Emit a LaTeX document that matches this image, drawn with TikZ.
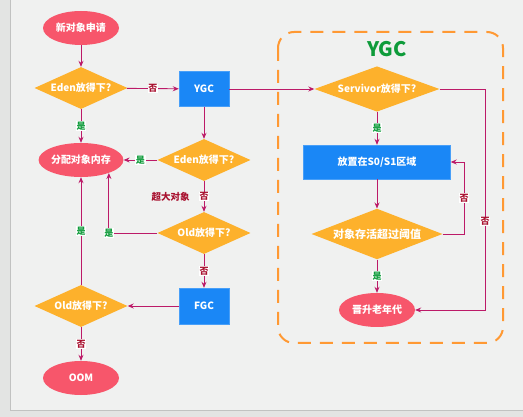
\documentclass[tikz,border=0pt]{standalone}
\usepackage{fontspec}
\setmainfont{Noto Sans CJK SC}
\usetikzlibrary{shapes.geometric,arrows.meta}
\definecolor{bgc}{HTML}{F0F1F0}
\definecolor{framec}{HTML}{E3E4E3}
\definecolor{redc}{HTML}{F7566B}
\definecolor{orangec}{HTML}{FDB12C}
\definecolor{bluec}{HTML}{1A87F6}
\definecolor{arrc}{HTML}{BC1A68}
\definecolor{yesc}{HTML}{0E9B3A}
\definecolor{noc}{HTML}{A8102E}
\definecolor{dashc}{HTML}{FF9933}
\tikzset{
  term/.style={ellipse, fill=redc, text=white, font=\bfseries\fontsize{10}{12}\selectfont, minimum width=76pt, minimum height=34pt, inner sep=0pt},
  decide/.style={diamond, fill=orangec, text=white, font=\bfseries\fontsize{10}{12}\selectfont, inner sep=0pt, aspect=2.2},
  proc/.style={rectangle, fill=bluec, draw=bluec!80!white, text=white, font=\bfseries\fontsize{10}{12}\selectfont, inner sep=0pt},
  arr/.style={draw=arrc, line width=0.9pt, -{Stealth[length=6pt,width=5pt]}},
  yes/.style={fill=white, text=yesc, font=\bfseries\fontsize{9}{10}\selectfont, inner sep=0.8pt},
  no/.style={fill=white, text=noc, font=\bfseries\fontsize{9}{10}\selectfont, inner sep=0.8pt},
}
\begin{document}
\begin{tikzpicture}[x=1pt,y=-1pt]
\useasboundingbox (0,0) rectangle (523,417);
\fill[framec] (0,0) rectangle (523,417);
\fill[bgc] (10,0) rectangle (523,410);
\draw[framec!85!black, line width=0.6pt] (10,0) -- (10,410) -- (523,410);

% dashed YGC region
\draw[dashc, line width=2pt, dash pattern=on 13pt off 9pt, rounded corners=16pt] (278,32) rectangle (503,343);
\node[text=yesc, font=\bfseries\fontsize{20}{22}\selectfont] (title) at (387,49) {YGC};

% left column
\node[term] (start) at (81,28) {新对象申请};
\node[decide, minimum width=93pt, minimum height=42pt] (d1) at (81,88) {Eden放得下?};
\node[proc, minimum width=50pt, minimum height=35pt] (ygc) at (204,89) {YGC};
\node[term] (alloc) at (81,160) {分配对象内存};
\node[decide, minimum width=93pt, minimum height=42pt] (d2) at (204,160) {Eden放得下?};
\node[decide, minimum width=93pt, minimum height=42pt] (d3) at (204,233) {Old放得下?};
\node[proc, minimum width=50pt, minimum height=36pt] (fgc) at (204,306) {FGC};
\node[decide, minimum width=93pt, minimum height=42pt] (d4) at (81,306) {Old放得下?};
\node[term] (oom) at (81,378) {OOM};

% right column
\node[decide, minimum width=125pt, minimum height=44pt] (sv) at (377,89) {Servivor放得下?};
\node[proc, minimum width=147pt, minimum height=34pt] (s01) at (377,162) {放置在S0/S1区域};
\node[decide, minimum width=131pt, minimum height=50pt, font=\bfseries\fontsize{11}{12}\selectfont] (th) at (377,234) {对象存活超过阈值};
\node[term] (promo) at (377,310) {晋升老年代};

% connectors
\draw[arr] (start) -- (d1);
\draw[arr] (d1) -- node[no] {否} (ygc);
\draw[arr] (d1) -- node[yes] {是} (alloc);
\draw[arr] (ygc) -- (d2);
\draw[arr] (ygc) -- (sv);
\draw[arr] (d2) -- node[yes] {是} (alloc);
\draw[arr] (d2) -- node[no] (n2) {否} (d3);
\node[text=noc, font=\bfseries\fontsize{9.5}{10}\selectfont, anchor=east] (big) at ([xshift=-5pt]n2.west) {超大对象};
\draw[arr] (d3.west) -| node[pos=0.5, yes] {是} (alloc.-25);
\draw[arr] (d4.north) -- node[yes] {是} (alloc.south);
\draw[arr] (d3) -- node[no] {否} (fgc);
\draw[arr] (fgc) -- (d4);
\draw[arr] (d4) -- node[no] {否} (oom);

\draw[arr] (sv) -- node[yes] {是} (s01);
\draw[arr] (s01) -- (th);
\draw[arr] (th) -- node[yes] {是} (promo);
\coordinate (c1) at (464,234);
\coordinate (c2) at (485,89);
\draw[arr] (th.east) -- (c1) |- node[pos=0.25, no] {否} (s01.east);
\draw[arr] (sv.east) -- (c2) |- node[pos=0.3, no] {否} (promo.east);
\end{tikzpicture}
\end{document}
